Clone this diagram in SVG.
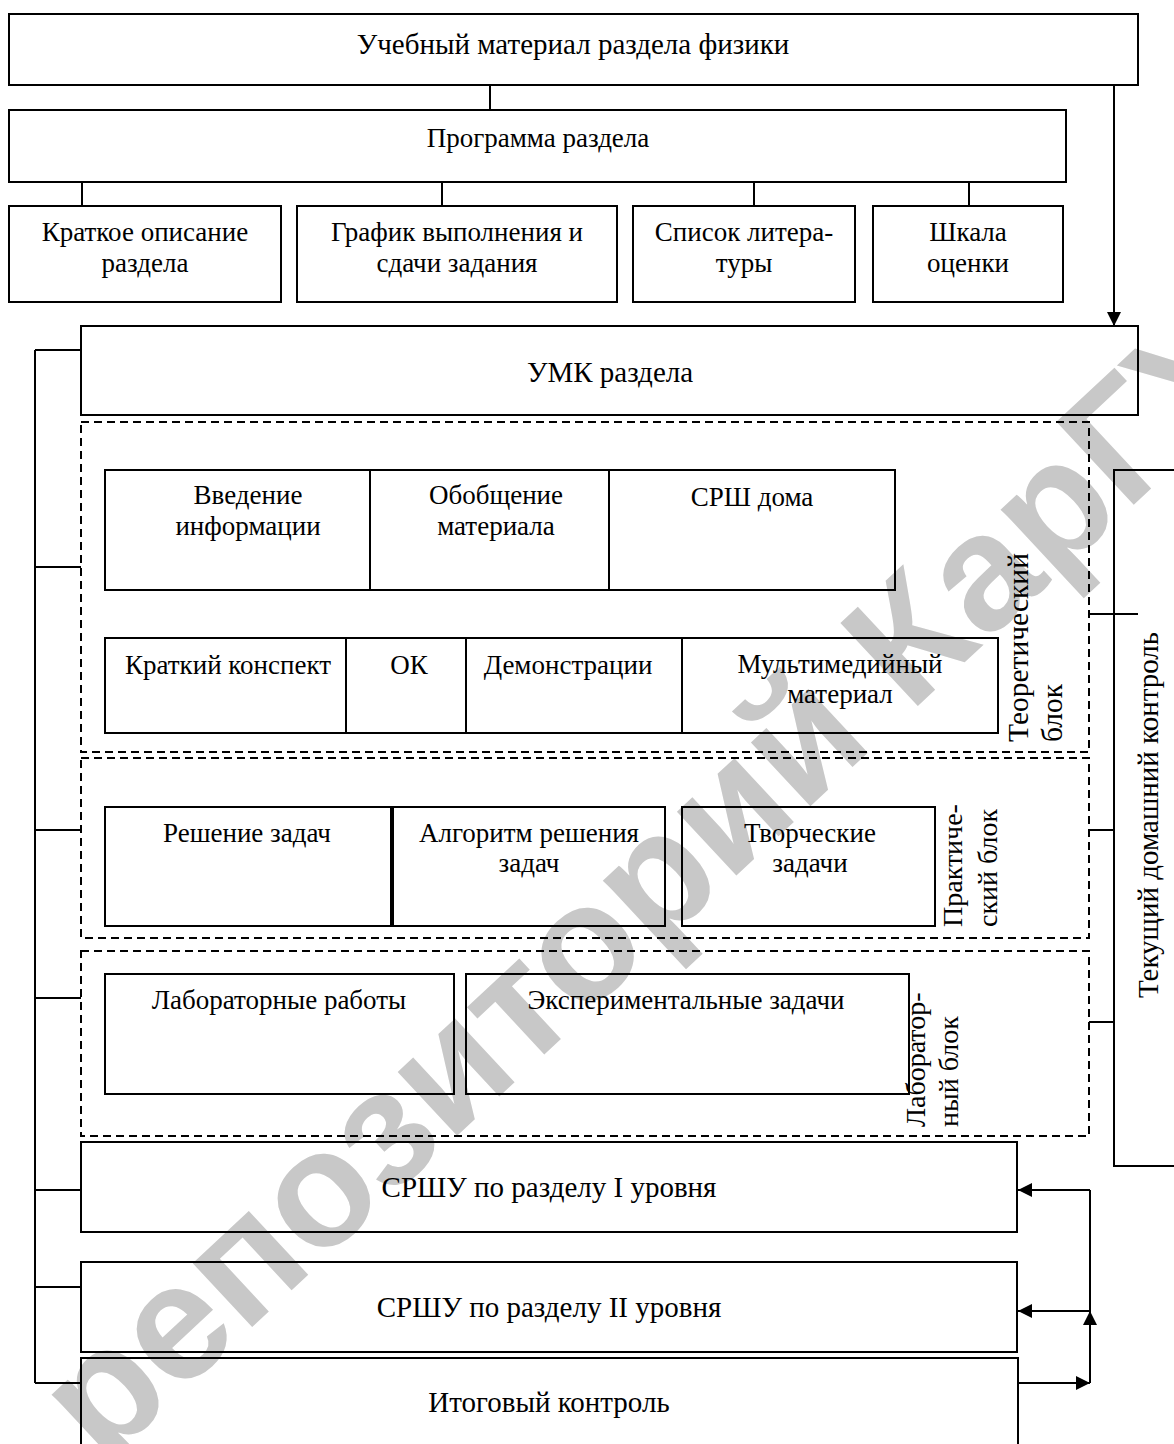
<svg xmlns="http://www.w3.org/2000/svg" width="1174" height="1444" viewBox="0 0 1174 1444">
<style>
.b{fill:none;stroke:#000;stroke-width:2}
.d{fill:none;stroke:#000;stroke-width:2;stroke-dasharray:8 5}
.l{fill:none;stroke:#000;stroke-width:2}
.t{font-family:"Liberation Serif","Times New Roman",serif;font-size:27px;fill:#000;text-anchor:middle}
.big{font-size:29px}
.r{font-family:"Liberation Serif","Times New Roman",serif;font-size:28px;fill:#000;text-anchor:start}
.wm{font-family:"Liberation Sans",Arial,sans-serif;font-size:165px;font-weight:bold;fill:#c8c8c8}
</style>
<defs>
<marker id="ah" markerUnits="userSpaceOnUse" markerWidth="16" markerHeight="16" refX="14" refY="7" orient="auto">
<path d="M0,0 L14,7 L0,14 z" fill="#000"/>
</marker>
</defs>
<rect width="1174" height="1444" fill="#fff"/>
<text class="wm" transform="translate(103,1466) rotate(-43)">репозиторий КарГУ</text>

<g id="connectors">
<path class="l" d="M490,85 V110"/>
<path class="l" d="M82,182 V207 M442,182 V207 M754,182 V207 M969,182 V207"/>
<path class="l" d="M1114,85 V326" marker-end="url(#ah)"/>
<path class="l" d="M35,350 V1383 M35,350 H81 M35,567 H81 M35,830 H81 M35,998 H81 M35,1190 H81 M35,1287 H81 M35,1383 H81"/>
<path class="l" d="M1089,614 H1138 M1089,830 H1114 M1089,1022 H1114"/>
<path class="l" d="M1018,1383 H1090" marker-end="url(#ah)"/>
<path class="l" d="M1090,1383 V1311" marker-end="url(#ah)"/>
<path class="l" d="M1090,1311 V1190"/>
<path class="l" d="M1090,1190 H1018" marker-end="url(#ah)"/>
<path class="l" d="M1090,1311 H1018" marker-end="url(#ah)"/>
</g>

<g id="n-top"><rect class="b" x="9" y="14" width="1129" height="71"/><text class="t big" x="573" y="54">Учебный материал раздела физики</text></g>
<g id="n-prog"><rect class="b" x="9" y="110" width="1057" height="72"/><text class="t" x="538" y="147">Программа раздела</text></g>
<g id="n-opis"><rect class="b" x="9" y="206" width="272" height="96"/><text class="t" x="145" y="241">Краткое описание</text><text class="t" x="145" y="272">раздела</text></g>
<g id="n-graf"><rect class="b" x="297" y="206" width="320" height="96"/><text class="t" x="457" y="241">График выполнения и</text><text class="t" x="457" y="272">сдачи задания</text></g>
<g id="n-spis"><rect class="b" x="633" y="206" width="222" height="96"/><text class="t" x="744" y="241">Список литера-</text><text class="t" x="744" y="272">туры</text></g>
<g id="n-shk"><rect class="b" x="873" y="206" width="190" height="96"/><text class="t" x="968" y="241">Шкала</text><text class="t" x="968" y="272">оценки</text></g>

<g id="n-umk"><rect class="b" x="81" y="326" width="1057" height="89"/><text class="t big" x="610" y="382">УМК раздела</text></g>

<g id="g-theor">
<rect class="d" x="81" y="422" width="1008" height="330"/>
<text class="r" style="font-size:29.5px" transform="translate(1028,742) rotate(-90)">Теоретический</text>
<text class="r" style="font-size:29.5px" transform="translate(1062,742) rotate(-90)">блок</text>
</g>
<g id="n-vved"><rect class="b" x="105" y="470" width="265" height="120"/><text class="t" x="248" y="504">Введение</text><text class="t" x="248" y="535">информации</text></g>
<g id="n-obob"><rect class="b" x="370" y="470" width="239" height="120"/><text class="t" x="496" y="504">Обобщение</text><text class="t" x="496" y="535">материала</text></g>
<g id="n-srsh"><rect class="b" x="609" y="470" width="286" height="120"/><text class="t" x="752" y="506">СРШ дома</text></g>
<g id="n-konsp"><rect class="b" x="105" y="638" width="241" height="95"/><text class="t" x="228" y="674">Краткий конспект</text></g>
<g id="n-ok"><rect class="b" x="346" y="638" width="120" height="95"/><text class="t" x="409" y="674">ОК</text></g>
<g id="n-dem"><rect class="b" x="466" y="638" width="216" height="95"/><text class="t" x="568" y="674">Демонстрации</text></g>
<g id="n-mult"><rect class="b" x="682" y="638" width="316" height="95"/><text class="t" x="840" y="673">Мультимедийный</text><text class="t" x="840" y="703">материал</text></g>

<g id="g-prakt">
<rect class="d" x="81" y="758" width="1008" height="180"/>
<text class="r" transform="translate(962,927) rotate(-90)">Практиче-</text>
<text class="r" transform="translate(997,927) rotate(-90)">ский блок</text>
</g>
<g id="n-resh"><rect class="b" x="105" y="807" width="286" height="119"/><text class="t" x="247" y="842">Решение задач</text></g>
<g id="n-alg"><rect class="b" x="393" y="807" width="272" height="119"/><text class="t" x="529" y="842">Алгоритм решения</text><text class="t" x="529" y="872">задач</text></g>
<g id="n-tvor"><rect class="b" x="682" y="807" width="253" height="119"/><text class="t" x="810" y="842">Творческие</text><text class="t" x="810" y="872">задачи</text></g>

<g id="g-lab">
<rect class="d" x="81" y="951" width="1008" height="185"/>
<text class="r" transform="translate(925,1127) rotate(-90)">Лаборатор-</text>
<text class="r" transform="translate(958,1127) rotate(-90)">ный блок</text>
</g>
<g id="n-labr"><rect class="b" x="105" y="974" width="349" height="120"/><text class="t" x="279" y="1009">Лабораторные работы</text></g>
<g id="n-exp"><rect class="b" x="466" y="974" width="443" height="120"/><text class="t" x="686" y="1009">Экспериментальные задачи</text></g>

<g id="n-tek"><path class="b" d="M1180,470 H1114 V1166 H1180"/><text class="t big" transform="translate(1158,815) rotate(-90)">Текущий домашний контроль</text></g>

<g id="n-srshu1"><rect class="b" x="81" y="1142" width="936" height="90"/><text class="t big" x="549" y="1197">СРШУ по разделу I уровня</text></g>
<g id="n-srshu2"><rect class="b" x="81" y="1262" width="936" height="90"/><text class="t big" x="549" y="1317">СРШУ по разделу II уровня</text></g>
<g id="n-itog"><rect class="b" x="81" y="1358" width="937" height="100"/><text class="t big" x="549" y="1412">Итоговый контроль</text></g>
</svg>
